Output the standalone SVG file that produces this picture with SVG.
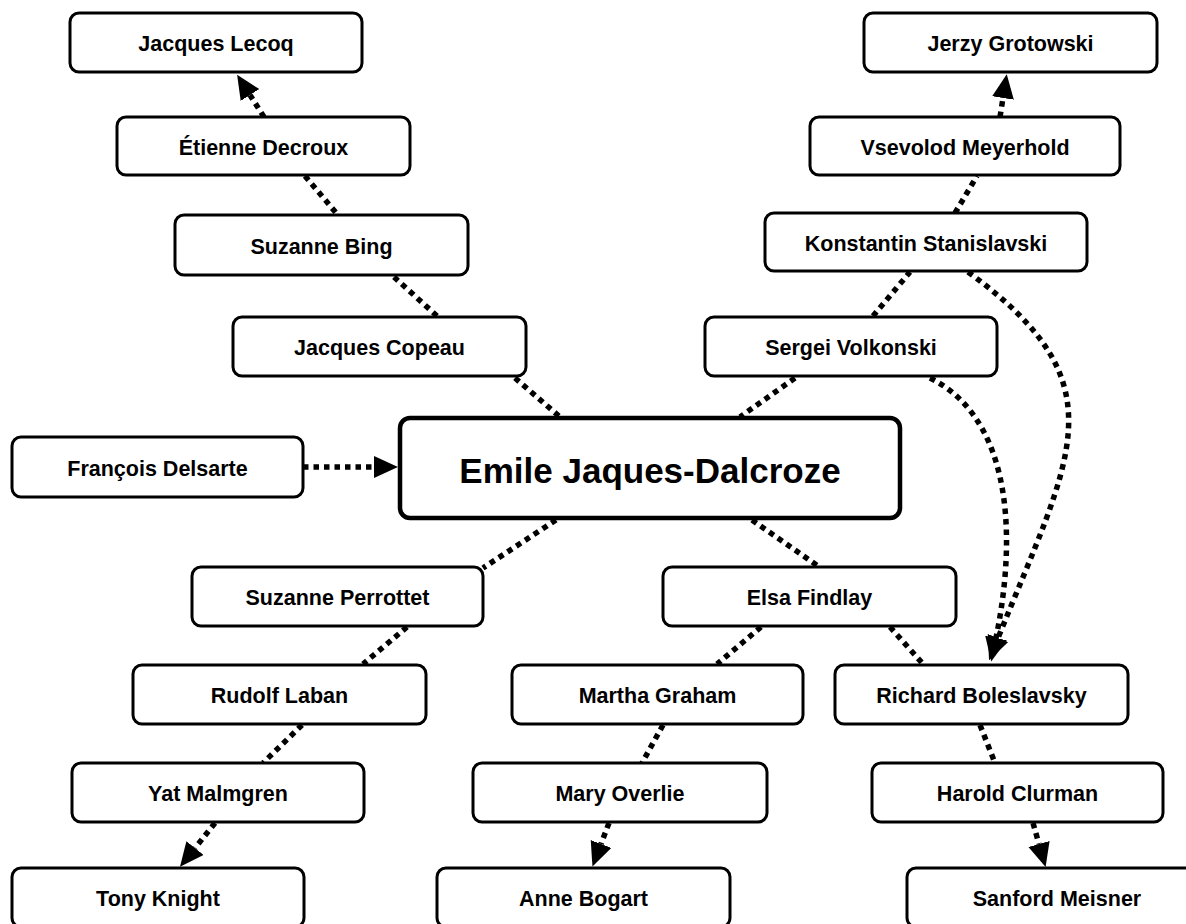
<svg xmlns="http://www.w3.org/2000/svg" width="1186" height="924" viewBox="0 0 1186 924">
<style>
.box{fill:#fff;stroke:#000;stroke-width:3}
.main{fill:#fff;stroke:#000;stroke-width:4.5}
.lbl{font-family:"Liberation Sans",Arial,sans-serif;font-weight:bold;font-size:21.5px;text-anchor:middle;fill:#000}
.big{font-family:"Liberation Sans",Arial,sans-serif;font-weight:bold;font-size:35px;text-anchor:middle;fill:#000}
.e{fill:none;stroke:#000;stroke-width:5.5;stroke-dasharray:5.5 5}
.a{marker-end:url(#arr)}
</style>
<defs>
<marker id="arr" markerUnits="userSpaceOnUse" markerWidth="26" markerHeight="24" refX="0" refY="11" orient="auto" viewBox="0 0 26 24">
<path d="M0,0 L24,11 L0,22 z" fill="#000"/>
</marker>
</defs>
<rect width="1186" height="924" fill="#fff"/>
<g id="connectors">
<path class="e a" d="M264,117 L250,95"/>
<path class="e a" d="M1000,117 L1003,98"/>
<path class="e a" d="M215,823 L195,848"/>
<path class="e a" d="M609,823 L601,844"/>
<path class="e a" d="M1033,823 L1039,844"/>
<path class="e a" d="M303,467 L374,467"/>
<path class="e a" d="M968,272 C1122,384 1072,454 998,638"/>
<path class="e a" d="M930,378 C1005,415 1020,520 996,638"/>
<path class="e" d="M305,176 L337,214"/>
<path class="e" d="M394,277 L437,316"/>
<path class="e" d="M515,378 L560,417"/>
<path class="e" d="M795,378 L740,417"/>
<path class="e" d="M873,316 L910,272"/>
<path class="e" d="M955,213 L977,176"/>
<path class="e" d="M556,520 L483,568"/>
<path class="e" d="M752,520 L818,566"/>
<path class="e" d="M407,627 L363,664"/>
<path class="e" d="M302,725 L263,763"/>
<path class="e" d="M761,627 L717,664"/>
<path class="e" d="M890,627 L923,664"/>
<path class="e" d="M663,725 L642,763"/>
<path class="e" d="M980,725 L995,763"/>
</g>
<g id="n-lecoq"><rect class="box" x="70" y="13" width="292" height="59" rx="9"/><text class="lbl" x="216" y="51">Jacques Lecoq</text></g>
<g id="n-grotowski"><rect class="box" x="864" y="13" width="293" height="59" rx="9"/><text class="lbl" x="1010.5" y="51">Jerzy Grotowski</text></g>
<g id="n-decroux"><rect class="box" x="117" y="117" width="293" height="58" rx="9"/><text class="lbl" x="263.5" y="154.5">Étienne Decroux</text></g>
<g id="n-meyerhold"><rect class="box" x="810" y="117" width="310" height="58" rx="9"/><text class="lbl" x="965" y="154.5">Vsevolod Meyerhold</text></g>
<g id="n-bing"><rect class="box" x="175" y="215" width="293" height="60" rx="9"/><text class="lbl" x="321.5" y="253.5">Suzanne Bing</text></g>
<g id="n-stanislavski"><rect class="box" x="765" y="213" width="322" height="58" rx="9"/><text class="lbl" x="926" y="250.5">Konstantin Stanislavski</text></g>
<g id="n-copeau"><rect class="box" x="233" y="317" width="293" height="59" rx="9"/><text class="lbl" x="379.5" y="355">Jacques Copeau</text></g>
<g id="n-volkonski"><rect class="box" x="705" y="317" width="292" height="59" rx="9"/><text class="lbl" x="851" y="355">Sergei Volkonski</text></g>
<g id="n-delsarte"><rect class="box" x="12" y="437" width="291" height="60" rx="9"/><text class="lbl" x="157.5" y="475.5">François Delsarte</text></g>
<g id="n-dalcroze"><rect class="main" x="400" y="418" width="500" height="100" rx="10"/><text class="big" x="650" y="483">Emile Jaques-Dalcroze</text></g>
<g id="n-perrottet"><rect class="box" x="192" y="567" width="291" height="59" rx="9"/><text class="lbl" x="337.5" y="605">Suzanne Perrottet</text></g>
<g id="n-findlay"><rect class="box" x="663" y="567" width="293" height="59" rx="9"/><text class="lbl" x="809.5" y="605">Elsa Findlay</text></g>
<g id="n-laban"><rect class="box" x="133" y="665" width="293" height="59" rx="9"/><text class="lbl" x="279.5" y="703">Rudolf Laban</text></g>
<g id="n-graham"><rect class="box" x="512" y="665" width="291" height="59" rx="9"/><text class="lbl" x="657.5" y="703">Martha Graham</text></g>
<g id="n-boleslavsky"><rect class="box" x="835" y="665" width="293" height="59" rx="9"/><text class="lbl" x="981.5" y="703">Richard Boleslavsky</text></g>
<g id="n-malmgren"><rect class="box" x="72" y="763" width="292" height="59" rx="9"/><text class="lbl" x="218" y="801">Yat Malmgren</text></g>
<g id="n-overlie"><rect class="box" x="473" y="763" width="294" height="59" rx="9"/><text class="lbl" x="620" y="801">Mary Overlie</text></g>
<g id="n-clurman"><rect class="box" x="872" y="763" width="291" height="59" rx="9"/><text class="lbl" x="1017.5" y="801">Harold Clurman</text></g>
<g id="n-knight"><rect class="box" x="12" y="868" width="292" height="59" rx="9"/><text class="lbl" x="158" y="906">Tony Knight</text></g>
<g id="n-bogart"><rect class="box" x="437" y="868" width="293" height="59" rx="9"/><text class="lbl" x="583.5" y="906">Anne Bogart</text></g>
<g id="n-meisner"><rect class="box" x="907" y="868" width="300" height="59" rx="9"/><text class="lbl" x="1057" y="906">Sanford Meisner</text></g>
</svg>
